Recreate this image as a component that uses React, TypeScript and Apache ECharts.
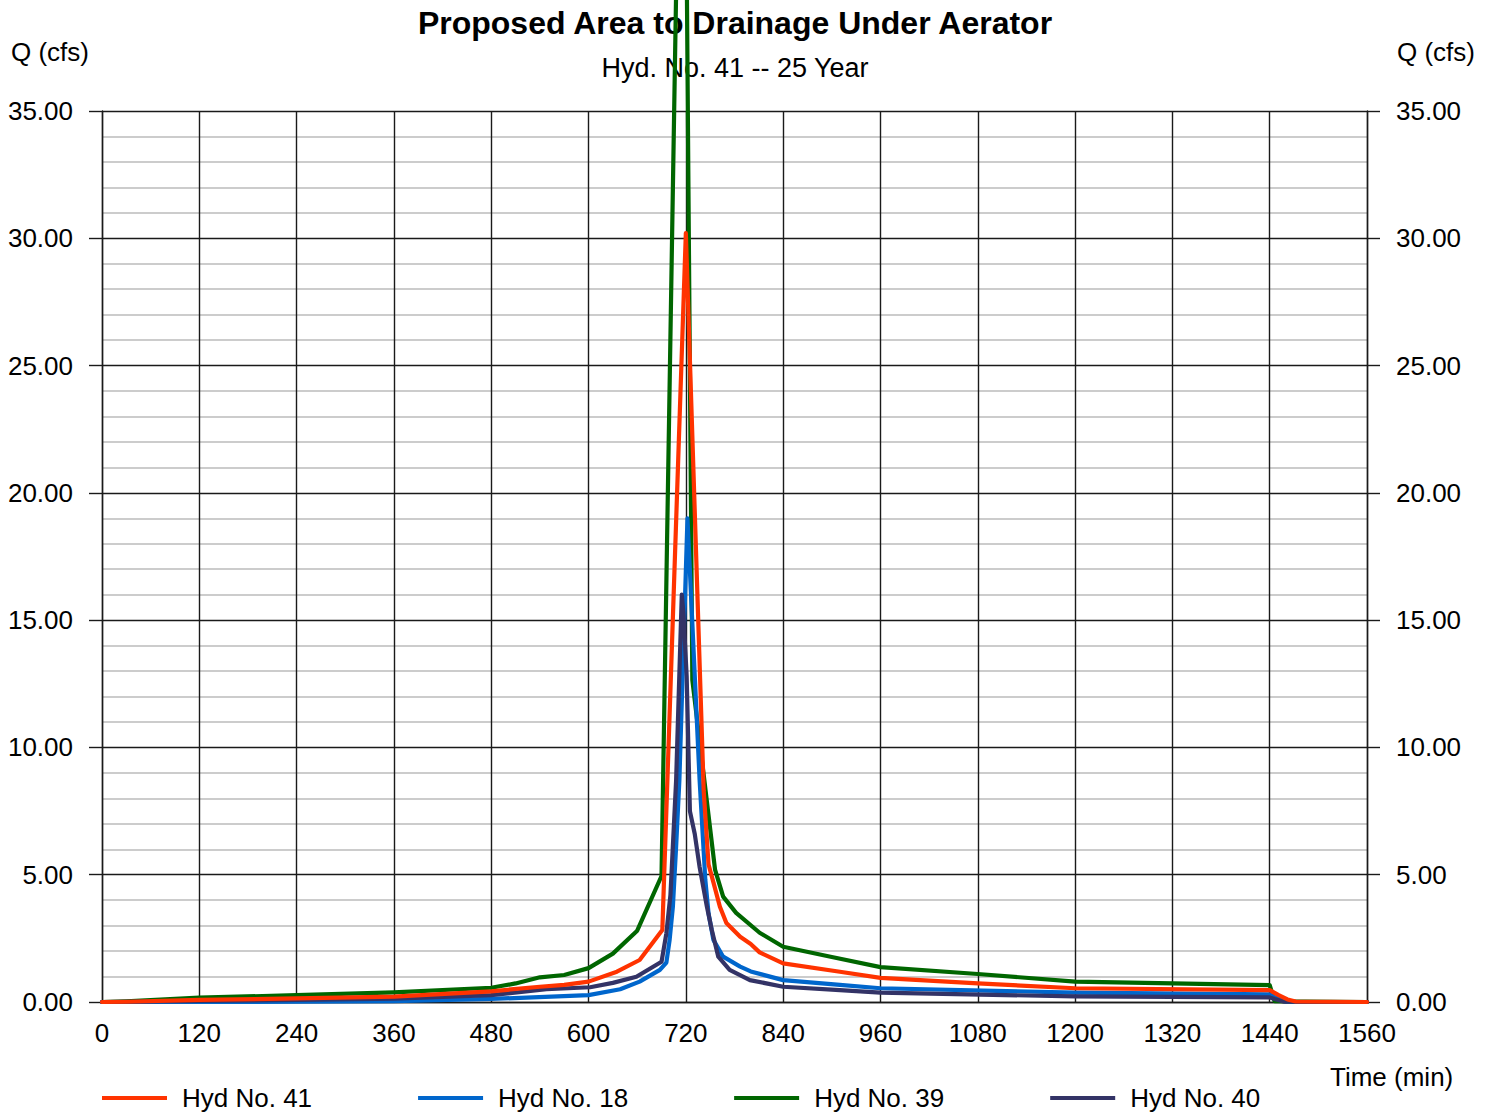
import React, { useEffect, useRef } from "react";
import * as echarts from "echarts";

// Hydrograph ordinates: time (min) and discharge Q (cfs) for each hydrograph
const hyd41Time = [0, 30, 120, 240, 360, 480, 540, 570, 600, 635, 663, 691, 720, 742, 748, 754, 762, 770, 787, 800, 811, 840, 910, 960, 1080, 1200, 1440, 1451, 1462, 1472, 1560];
const hyd41Flow = [0, 0.01, 0.08, 0.14, 0.21, 0.42, 0.6, 0.67, 0.8, 1.19, 1.65, 2.83, 30.2, 8.3, 5.4, 4.7, 3.74, 3.1, 2.56, 2.28, 1.95, 1.52, 1.19, 0.95, 0.73, 0.54, 0.47, 0.27, 0.1, 0.02, 0];

const hyd18Time = [0, 240, 360, 480, 600, 639, 663, 688, 696, 700, 704, 708, 712, 722, 737, 744, 748, 754, 766, 787, 800, 840, 910, 960, 1200, 1440, 1446, 1460, 1560];
const hyd18Flow = [0, 0.01, 0.03, 0.12, 0.27, 0.5, 0.8, 1.26, 1.55, 2.44, 3.74, 6.1, 8.7, 19.0, 8.7, 4.8, 3.48, 2.44, 1.78, 1.39, 1.2, 0.86, 0.67, 0.54, 0.37, 0.3, 0.2, 0.01, 0];

const hyd39Time = [0, 30, 120, 240, 360, 480, 510, 540, 570, 600, 630, 660, 690, 717, 728, 756, 766, 782, 811, 840, 900, 960, 1080, 1200, 1440, 1446, 1560];
const hyd39Flow = [0, 0.03, 0.17, 0.27, 0.38, 0.56, 0.73, 0.97, 1.06, 1.33, 1.9, 2.8, 4.95, 57, 12.65, 5.2, 4.14, 3.5, 2.72, 2.17, 1.77, 1.37, 1.1, 0.8, 0.66, 0.03, 0];

const hyd40Time = [0, 120, 240, 360, 480, 548, 602, 630, 659, 690, 696, 701, 708, 715, 717, 721, 725, 731, 737, 746, 752, 760, 774, 799, 840, 910, 960, 1200, 1440, 1446, 1458, 1560];
const hyd40Flow = [0, 0.04, 0.08, 0.13, 0.27, 0.5, 0.58, 0.75, 0.99, 1.58, 2.7, 4.2, 8.7, 16.0, 15.3, 12.8, 7.5, 6.6, 5.3, 3.74, 2.83, 1.78, 1.26, 0.86, 0.6, 0.47, 0.37, 0.22, 0.18, 0.12, 0.01, 0];

const seriesNames = ["Hyd No. 41", "Hyd No. 18", "Hyd No. 39", "Hyd No. 40"];
const seriesColors = ["#ff3300", "#0066cc", "#006600", "#333366"];

const titleText = "Proposed Area to Drainage Under Aerator";
const subtitleText = "Hyd. No. 41 -- 25 Year";
const yAxisTitle = "Q (cfs)";
const xAxisTitle = "Time (min)";

const FONT = "'Liberation Sans', Arial, Helvetica, sans-serif";

const pairs = (t: number[], q: number[]) => t.map((v, i) => [v, q[i]]);

export default function App() {
  const ref = useRef<HTMLDivElement>(null);

  useEffect(() => {
    document.body.style.margin = "0";
    if (!ref.current) return;
    const chart = echarts.init(ref.current, undefined, { renderer: "svg" });

    const gridLine = { color: "#1a1a1a", width: 1.4 };
    const minorLine = { color: "#cccccc", width: 2 };
    const labelStyle = { color: "#000", fontSize: 26, fontFamily: FONT };

    const yCommon = {
      type: "value" as const,
      min: 0,
      max: 35,
      interval: 5,
      axisLine: { show: true, lineStyle: gridLine },
      axisTick: { show: true, length: 13, inside: false, lineStyle: gridLine },
      axisLabel: { ...labelStyle, margin: 29, formatter: (v: number) => v.toFixed(2) },
    };

    const makeSeries = (idx: number, t: number[], q: number[], z: number) => ({
      name: seriesNames[idx],
      type: "line" as const,
      data: pairs(t, q),
      showSymbol: false,
      symbol: "none",
      clip: false,
      z,
      lineStyle: { color: seriesColors[idx], width: 4.2, join: "round" as const, cap: "round" as const },
      itemStyle: { color: seriesColors[idx] },
    });

    chart.setOption({
      animation: false,
      backgroundColor: "#ffffff",
      grid: { left: 102, right: 127, top: 111, bottom: 112, containLabel: false },
      xAxis: {
        type: "value",
        min: 0,
        max: 1560,
        interval: 120,
        axisLine: { show: true, onZero: false, lineStyle: gridLine },
        axisTick: { show: false },
        axisLabel: { ...labelStyle, margin: 18, formatter: (v: number) => String(v) },
        splitLine: { show: true, lineStyle: gridLine },
      },
      yAxis: [
        {
          ...yCommon,
          position: "left",
          splitLine: { show: true, lineStyle: gridLine },
          minorTick: { show: false, splitNumber: 5 },
          minorSplitLine: { show: true, lineStyle: minorLine },
        },
        {
          ...yCommon,
          position: "right",
          splitLine: { show: false },
        },
      ],
      legend: {
        data: seriesNames,
        left: 102,
        top: 1085,
        padding: 0,
        orient: "horizontal",
        icon: "rect",
        itemWidth: 65,
        itemHeight: 4,
        itemGap: 106,
        textStyle: { ...labelStyle, padding: [0, 0, 0, 10] },
      },
      graphic: [
        {
          type: "text",
          x: 735,
          y: 23,
          style: {
            text: titleText,
            fill: "#000",
            font: `bold 32px ${FONT}`,
            textAlign: "center",
            textVerticalAlign: "middle",
          },
        },
        {
          type: "text",
          x: 735,
          y: 68,
          style: {
            text: subtitleText,
            fill: "#000",
            font: `27px ${FONT}`,
            textAlign: "center",
            textVerticalAlign: "middle",
          },
        },
        {
          type: "text",
          x: 11,
          y: 52,
          style: { text: yAxisTitle, fill: "#000", font: `26px ${FONT}`, textAlign: "left", textVerticalAlign: "middle" },
        },
        {
          type: "text",
          x: 1397,
          y: 52,
          style: { text: yAxisTitle, fill: "#000", font: `26px ${FONT}`, textAlign: "left", textVerticalAlign: "middle" },
        },
        {
          type: "text",
          x: 1330,
          y: 1077,
          style: { text: xAxisTitle, fill: "#000", font: `26px ${FONT}`, textAlign: "left", textVerticalAlign: "middle" },
        },
      ],
      series: [
        makeSeries(2, hyd39Time, hyd39Flow, 2),
        makeSeries(1, hyd18Time, hyd18Flow, 3),
        makeSeries(3, hyd40Time, hyd40Flow, 4),
        makeSeries(0, hyd41Time, hyd41Flow, 5),
      ],
    });

    return () => chart.dispose();
  }, []);

  return <div ref={ref} style={{ width: 1494, height: 1114 }} />;
}
